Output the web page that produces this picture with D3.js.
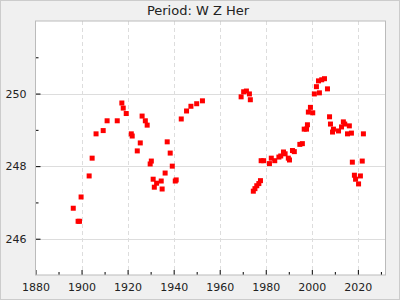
<!DOCTYPE html>
<html><head><meta charset="utf-8">
<script src="https://cdn.jsdelivr.net/npm/d3@7"></script>
<style>
html,body{margin:0;padding:0;background:#f0f0f0;}
svg{display:block;font-family:"DejaVu Sans",sans-serif;}
</style></head>
<body>
<svg id="chart" width="400" height="300"></svg>
<script>
const title = "Period: W Z Her";
const years = [1896.4,1898.5,1899.1,1899.8,1903.3,1904.6,1906.3,1909.4,1911.1,1915.5,1917.5,1918.1,1919.4,
  1921.6,1922.0,1924.2,1925.5,1926.3,1927.7,1928.5,1929.8,1930.3,1931.1,1931.6,1932.6,1934.6,1935.0,1936.3,1937.2,1938.5,1939.4,1940.7,1941.1,
  1943.3,1945.6,1947.5,1950.0,1952.5,
  1969.3,1970.4,1971.6,1972.9,1973.3,1974.6,1975.3,1976.1,1977.0,1977.7,1978.0,1979.1,1981.6,1982.4,1983.9,1985.7,1986.5,1987.7,1988.4,1989.8,1990.3,1991.6,1992.4,1994.8,1995.9,1996.7,1997.7,1998.1,1998.5,1999.4,2000.4,
  2001.1,2002.0,2002.9,2003.3,2004.3,2005.5,2006.8,2007.7,2008.1,2009.0,2009.4,2011.6,2012.9,2013.7,2014.3,2015.5,2016.3,2017.2,2017.6,2018.5,2019.0,2020.3,2021.1,2021.9,2022.4];
const periods = [246.84,246.48,246.48,247.15,247.73,248.22,248.89,248.98,249.25,249.25,249.74,249.60,249.45,
  248.89,248.83,248.42,248.64,249.38,249.25,249.13,248.06,248.14,247.64,247.42,247.53,247.59,247.37,247.81,248.67,248.36,248.00,247.59,247.62,
  249.30,249.52,249.65,249.72,249.80,
  249.91,250.05,250.07,249.99,249.83,247.31,247.38,247.46,247.52,247.60,248.15,248.15,248.07,248.22,248.15,248.25,248.28,248.39,248.34,248.22,248.17,248.43,248.40,248.60,248.62,249.02,249.02,249.14,249.49,249.62,249.47,
  249.99,250.19,250.35,250.02,250.38,250.41,250.13,249.36,249.16,248.94,249.02,248.97,249.08,249.22,249.16,248.89,249.11,248.91,248.11,247.75,247.64,247.51,247.73,248.14,248.89];
const xTicks = [1880,1900,1920,1940,1960,1980,2000,2020];
const yTicks = [246,248,250];

const svg = d3.select("#chart");
const W = 400, H = 300;
const m = {left:35.5, right:14.5, top:21, bottom:25};
const pw = W - m.left - m.right, ph = H - m.top - m.bottom;

svg.append("rect").attr("x",0.5).attr("y",0.5).attr("width",W-1).attr("height",H-1)
  .attr("fill","#f0f0f0").attr("stroke","#cccccc");

const x = d3.scaleLinear().domain([1880,2032]).range([m.left, m.left+pw]);
const y = d3.scaleLinear().domain([245,252]).range([m.top+ph, m.top]);

svg.append("rect").attr("x",m.left).attr("y",m.top).attr("width",pw).attr("height",ph)
  .attr("fill","#ffffff");

// grid
svg.append("g").selectAll("line").data(yTicks).join("line")
  .attr("x1",m.left).attr("x2",m.left+pw)
  .attr("y1",d=>Math.round(y(d))+0.5).attr("y2",d=>Math.round(y(d))+0.5)
  .attr("stroke","#dddddd").attr("stroke-width",1);
svg.append("g").selectAll("line").data(xTicks.filter(d=>d>1880)).join("line")
  .attr("x1",d=>Math.round(x(d))+0.5).attr("x2",d=>Math.round(x(d))+0.5)
  .attr("y1",m.top).attr("y2",m.top+ph)
  .attr("stroke","#dddddd").attr("stroke-width",1).attr("stroke-dasharray","4,3");

// axes (ticks inward)
const xAxis = d3.axisBottom(x).tickValues(xTicks).tickFormat(d3.format("d")).tickSize(-5).tickPadding(8);
const gx = svg.append("g").attr("transform",`translate(0,${m.top+ph})`).call(xAxis);
const xMinor = d3.axisBottom(x).tickValues(d3.range(1890,2040,20)).tickFormat("").tickSize(-3);
svg.append("g").attr("transform",`translate(0,${m.top+ph})`).call(xMinor).select(".domain").remove();

const yAxis = d3.axisLeft(y).tickValues(yTicks).tickFormat(d3.format("d")).tickSize(-5).tickPadding(9);
const gy = svg.append("g").attr("transform",`translate(${m.left},0)`).call(yAxis);
const yMinor = d3.axisLeft(y).tickValues([247,249,251]).tickFormat("").tickSize(-3);
svg.append("g").attr("transform",`translate(${m.left},0)`).call(yMinor).select(".domain").remove();

svg.selectAll(".domain").remove();
svg.selectAll(".tick line").attr("stroke","#000");
svg.selectAll(".tick text").attr("font-size","11px").attr("fill","#222").attr("font-family","DejaVu Sans");

// border
svg.append("rect").attr("x",m.left).attr("y",m.top).attr("width",pw).attr("height",ph)
  .attr("fill","none").attr("stroke","#bbbbbb");

// points
const s = 5;
svg.append("g").selectAll("rect").data(years.map((d,i)=>[d,periods[i]])).join("rect")
  .attr("x",d=>x(d[0])-s/2).attr("y",d=>y(d[1])-s/2).attr("width",s).attr("height",s)
  .attr("fill","#ff0000");

svg.append("text").attr("x",198).attr("y",15).attr("text-anchor","middle")
  .attr("font-size","13px").attr("fill","#222").text(title);
</script>
</body></html>
